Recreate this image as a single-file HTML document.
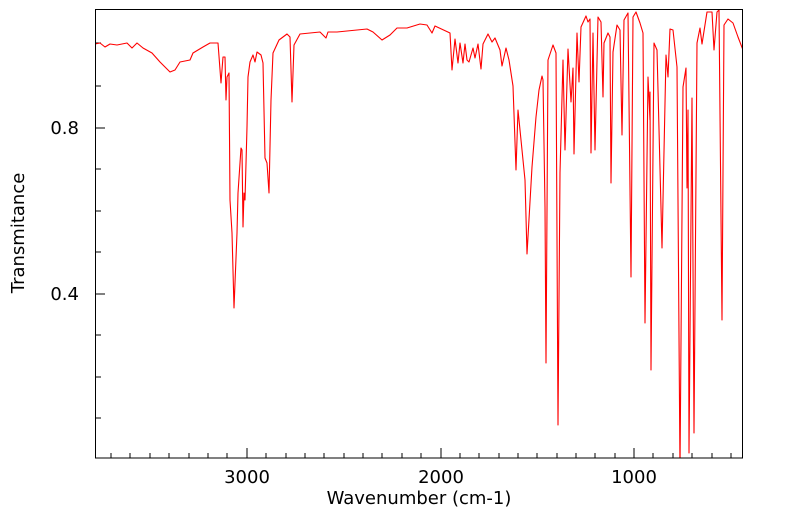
<!DOCTYPE html>
<html><head><meta charset="utf-8"><style>
html,body{margin:0;padding:0;background:#fff;}
svg{display:block;font-family:"DejaVu Sans","Liberation Sans",sans-serif;}
</style></head><body>
<svg width="799" height="516" viewBox="0 0 799 516">
<defs><clipPath id="c"><rect x="95" y="9" width="648" height="449"/></clipPath></defs>
<g stroke="#000" stroke-width="1">
<line x1="95" y1="43" x2="101" y2="43"/><line x1="95" y1="86" x2="101" y2="86"/>
<line x1="95" y1="128" x2="105" y2="128"/><line x1="95" y1="169" x2="101" y2="169"/>
<line x1="95" y1="211" x2="101" y2="211"/><line x1="95" y1="252" x2="101" y2="252"/>
<line x1="95" y1="294" x2="105" y2="294"/><line x1="95" y1="335" x2="101" y2="335"/>
<line x1="95" y1="377" x2="101" y2="377"/><line x1="95" y1="418" x2="101" y2="418"/>
</g>
<g stroke="#000" stroke-width="1">
<line x1="247" y1="458" x2="247" y2="448"/><line x1="441" y1="458" x2="441" y2="448"/><line x1="634" y1="458" x2="634" y2="448"/>
<line x1="111" y1="458" x2="111" y2="453"/><line x1="130" y1="458" x2="130" y2="453"/><line x1="150" y1="458" x2="150" y2="453"/><line x1="169" y1="458" x2="169" y2="453"/><line x1="189" y1="458" x2="189" y2="453"/><line x1="208" y1="458" x2="208" y2="453"/><line x1="227" y1="458" x2="227" y2="453"/>
<line x1="266" y1="458" x2="266" y2="453"/><line x1="286" y1="458" x2="286" y2="453"/><line x1="305" y1="458" x2="305" y2="453"/><line x1="324" y1="458" x2="324" y2="453"/><line x1="344" y1="458" x2="344" y2="453"/><line x1="363" y1="458" x2="363" y2="453"/><line x1="382" y1="458" x2="382" y2="453"/><line x1="402" y1="458" x2="402" y2="453"/><line x1="421" y1="458" x2="421" y2="453"/>
<line x1="460" y1="458" x2="460" y2="453"/><line x1="479" y1="458" x2="479" y2="453"/><line x1="499" y1="458" x2="499" y2="453"/><line x1="518" y1="458" x2="518" y2="453"/><line x1="537" y1="458" x2="537" y2="453"/><line x1="557" y1="458" x2="557" y2="453"/><line x1="576" y1="458" x2="576" y2="453"/><line x1="595" y1="458" x2="595" y2="453"/><line x1="615" y1="458" x2="615" y2="453"/>
<line x1="653" y1="458" x2="653" y2="453"/><line x1="673" y1="458" x2="673" y2="453"/><line x1="692" y1="458" x2="692" y2="453"/><line x1="712" y1="458" x2="712" y2="453"/><line x1="731" y1="458" x2="731" y2="453"/>
</g>
<polyline clip-path="url(#c)" fill="none" stroke="#ff0000" stroke-width="1.1" stroke-linejoin="round" points="
95,44 100,43 105,47 110,44 117,45 127,43 132,48 137,43 143,48 152,53 160,62 170,72 175,70 180,62 190,60 193,53 203,47 210,43 218,43 221,83 223,57 225,57 226,100 227,77 229,73 230,200 232,233 234,308 237,233 238,193 241,148 242,150 243,227 244,193 245,200 247,127 248,77 250,62 253,55 255,62 257,52 261,55 263,63 265,158 267,163 269,193 271,100 273,53 279,40 287,34 290,37 292,102 294,45 300,34 310,33 320,32 326,38 328,32 337,32 357,30 367,29 373,32 382,40 390,35 397,28 407,28 420,24 427,25 432,33 435,26 450,33 452,70 455,39 458,63 460,43 463,63 465,44 467,60 469,62 473,48 475,58 478,44 481,69 483,44 488,34 492,42 495,38 500,50 502,66 506,48 509,60 513,86 516,170 518,110 521,140 525,180 527,254 532,167 536,117 539,90 542,76 543,80 545,207 546,363 548,60 553,45 556,53 558,425 560,173 563,60 565,150 568,49 571,102 573,68 574,154 577,33 579,82 581,27 586,16 588,22 590,19 591,153 593,33 595,150 598,17 601,22 603,97 604,43 608,33 610,37 611,183 613,52 617,25 620,30 622,135 624,20 628,13 631,277 633,17 636,12 640,23 643,33 645,323 648,77 650,120 650,92 651,370 654,43 657,50 662,248 666,55 668,77 670,29 673,30 677,67 680,470 683,87 686,68 687,188 688,110 689,453 692,98 694,433 697,43 700,28 702,44 707,12 712,12 714,50 717,12 719,10 722,320 724,25 728,19 733,23 738,37 743,50"/>
<rect x="95.5" y="9.5" width="647" height="448.5" fill="none" stroke="#000" stroke-width="1"/>
<g font-size="18" fill="#000">
<text x="79" y="134" text-anchor="end">0.8</text>
<text x="79" y="300" text-anchor="end">0.4</text>
<text x="247" y="483" text-anchor="middle">3000</text>
<text x="441" y="483" text-anchor="middle">2000</text>
<text x="634" y="483" text-anchor="middle">1000</text>
<text x="419" y="504" text-anchor="middle">Wavenumber (cm-1)</text>
<text transform="translate(24,233) rotate(-90)" text-anchor="middle">Transmitance</text>
</g>
</svg>
</body></html>
